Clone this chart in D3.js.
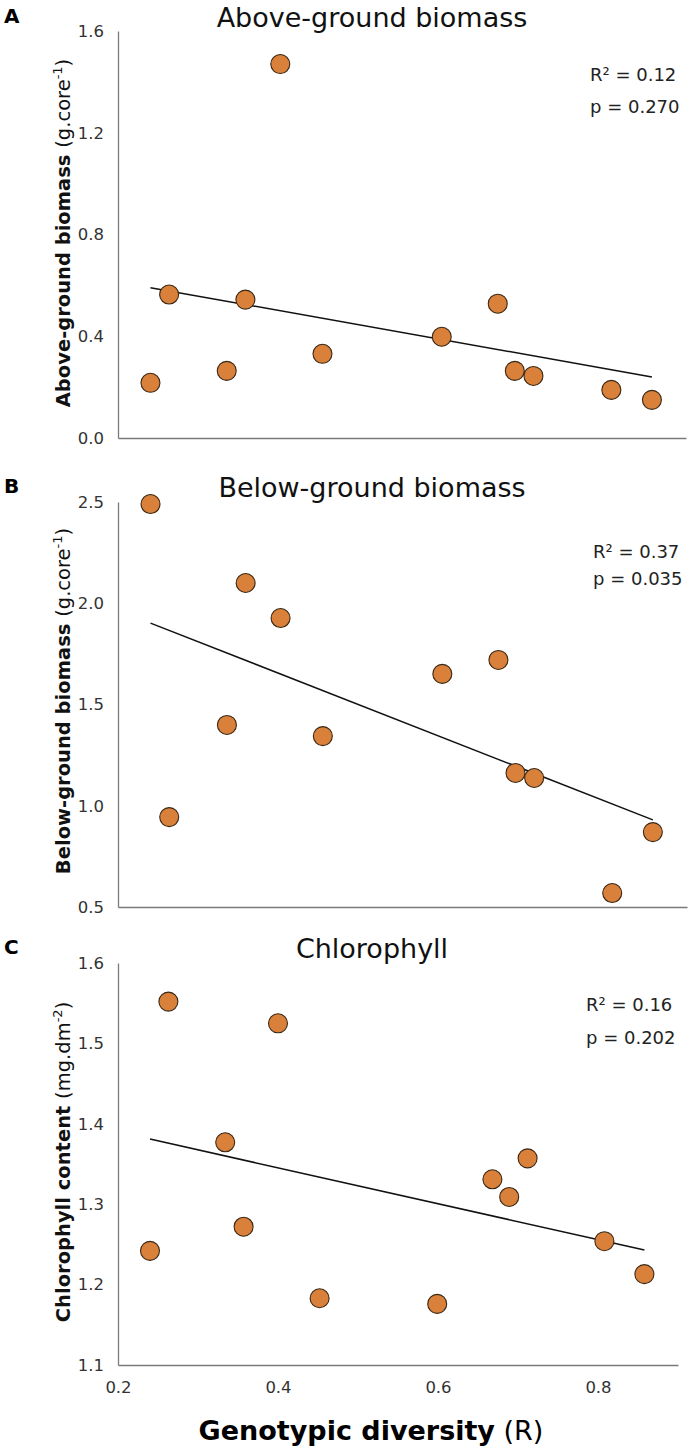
<!DOCTYPE html>
<html>
<head>
<meta charset="utf-8">
<script src="https://cdn.jsdelivr.net/npm/d3@7"></script>
<style>
  html, body { margin: 0; padding: 0; background: #fff; }
  svg { display: block; font-family: "DejaVu Sans", Verdana, sans-serif; }
</style>
</head>
<body>
<svg id="chart" width="690" height="1449"></svg>
<script>
// ---- data ----
const diversity   = [0.240, 0.263, 0.334, 0.357, 0.400, 0.452, 0.599, 0.668, 0.689, 0.712, 0.808, 0.858];
const aboveGround = [0.217, 0.564, 0.264, 0.544, 1.470, 0.331, 0.398, 0.528, 0.264, 0.244, 0.189, 0.150];
const belowGround = [2.490, 0.944, 1.399, 2.100, 1.927, 1.344, 1.651, 1.720, 1.162, 1.137, 0.569, 0.870];
const chlorophyll = [1.242, 1.552, 1.377, 1.272, 1.525, 1.183, 1.176, 1.331, 1.309, 1.357, 1.254, 1.213];

const trendX     = [0.240, 0.858];
const trendAbove = [0.591, 0.240];
const trendBelow = [1.902, 0.930];
const trendChl   = [1.381, 1.243];

const xDomain = [0.2, 0.9];
const xTicks = [0.2, 0.4, 0.6, 0.8];
const ticksAbove = [0.0, 0.4, 0.8, 1.2, 1.6];
const ticksBelow = [0.5, 1.0, 1.5, 2.0, 2.5];
const ticksChl   = [1.1, 1.2, 1.3, 1.4, 1.5, 1.6];

const panelLetters = ["A", "B", "C"];
const titles = ["Above-ground biomass", "Below-ground biomass", "Chlorophyll"];
const yLabelBold = ["Above-ground biomass", "Below-ground biomass", "Chlorophyll content"];
const yLabelUnit = ["(g.core", "(g.core", "(mg.dm"];
const yLabelSup  = ["-1", "-1", "-2"];
const r2Text = ["R\u00B2 = 0.12", "R\u00B2 = 0.37", "R\u00B2 = 0.16"];
const pText  = ["p = 0.270", "p = 0.035", "p = 0.202"];
const xTitleBold = "Genotypic diversity";
const xTitleUnit = " (R)";

// ---- layout ----
const panels = [
  { y: aboveGround, trend: trendAbove, ticks: ticksAbove, yDom: [0, 1.6],   top: 31,  bottom: 438,  right: 686,
    letterY: 23, titleY: 27, labelCY: 233, annX: 590, r2Y: 81, pY: 113 },
  { y: belowGround, trend: trendBelow, ticks: ticksBelow, yDom: [0.5, 2.5], top: 502, bottom: 907,  right: 687,
    letterY: 493, titleY: 497, labelCY: 701, annX: 593, r2Y: 558, pY: 585 },
  { y: chlorophyll, trend: trendChl,   ticks: ticksChl,   yDom: [1.1, 1.6], top: 963, bottom: 1365, right: 678,
    letterY: 954, titleY: 958, labelCY: 1162, annX: 586, r2Y: 1011, pY: 1044 }
];
const left = 118;
const axisColor = "#7a7a7a";
const fillColor = "#D9803A";
const strokeColor = "#3a2815";

const svg = d3.select("#chart");

panels.forEach((p, i) => {
  const x = d3.scaleLinear().domain(xDomain).range([left, p.right]);
  const y = d3.scaleLinear().domain(p.yDom).range([p.bottom, p.top]);
  const g = svg.append("g");

  // y axis
  const yAxis = d3.axisLeft(y).tickValues(p.ticks).tickFormat(d3.format(".1f")).tickSize(0).tickSizeOuter(0).tickPadding(14);
  const ya = g.append("g").attr("transform", `translate(${left},0)`).call(yAxis);
  ya.select(".domain").attr("stroke", axisColor).attr("stroke-width", 1.3);
  ya.selectAll("text").attr("fill", "#333").attr("font-size", 16.5).attr("font-family", "DejaVu Sans, sans-serif");

  // x axis
  const xAxis = d3.axisBottom(x).tickValues(i === 2 ? xTicks : []).tickFormat(d3.format(".1f")).tickSize(0).tickSizeOuter(0).tickPadding(16);
  const xa = g.append("g").attr("transform", `translate(0,${p.bottom})`).call(xAxis);
  xa.select(".domain").attr("stroke", axisColor).attr("stroke-width", 1.3);
  xa.selectAll("text").attr("fill", "#333").attr("font-size", 16.5).attr("font-family", "DejaVu Sans, sans-serif");

  // trend line
  const line = d3.line().x(d => x(d[0])).y(d => y(d[1]));
  g.append("path")
    .datum(trendX.map((xv, k) => [xv, p.trend[k]]))
    .attr("d", line)
    .attr("fill", "none")
    .attr("stroke", "#111")
    .attr("stroke-width", 1.5);

  // points
  g.selectAll("circle.pt")
    .data(diversity.map((xv, k) => [xv, p.y[k]]))
    .join("circle")
    .attr("class", "pt")
    .attr("cx", d => x(d[0]))
    .attr("cy", d => y(d[1]))
    .attr("r", 9.5)
    .attr("fill", fillColor)
    .attr("stroke", strokeColor)
    .attr("stroke-width", 1.1);

  // panel letter
  svg.append("text").attr("x", 4).attr("y", p.letterY)
    .attr("font-size", 20).attr("font-weight", "bold").attr("fill", "#000")
    .text(panelLetters[i]);

  // title
  svg.append("text").attr("x", 372).attr("y", p.titleY)
    .attr("text-anchor", "middle").attr("font-size", 27).attr("fill", "#111")
    .text(titles[i]);

  // y label
  const yl = svg.append("text")
    .attr("transform", `translate(70,${p.labelCY}) rotate(-90)`)
    .attr("text-anchor", "middle").attr("font-size", 19.5).attr("fill", "#111");
  yl.append("tspan").attr("font-weight", "bold").text(yLabelBold[i] + " ");
  yl.append("tspan").text(yLabelUnit[i]);
  yl.append("tspan").attr("font-size", 13).attr("dy", -8).text(yLabelSup[i]);
  yl.append("tspan").attr("dy", 8).text(")");

  // annotations
  svg.append("text").attr("x", p.annX).attr("y", p.r2Y).attr("font-size", 18).attr("fill", "#222").text(r2Text[i]);
  svg.append("text").attr("x", p.annX).attr("y", p.pY).attr("font-size", 18).attr("fill", "#222").text(pText[i]);
});

// x axis title
const xt = svg.append("text").attr("x", 371).attr("y", 1440).attr("text-anchor", "middle")
  .attr("font-size", 27).attr("fill", "#000");
xt.append("tspan").attr("font-weight", "bold").text(xTitleBold);
xt.append("tspan").text(xTitleUnit);
</script>
</body>
</html>
